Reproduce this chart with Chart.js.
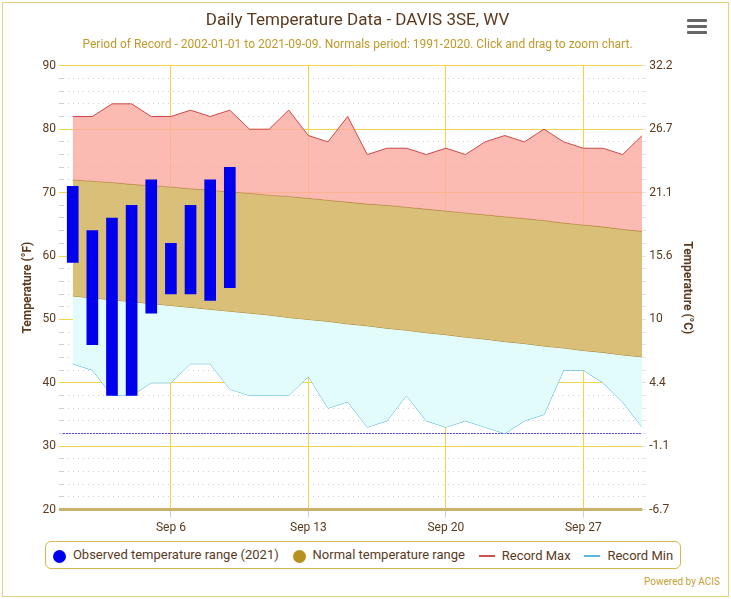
<!DOCTYPE html>
<html><head><meta charset="utf-8">
<script src="https://cdn.jsdelivr.net/npm/chart.js@4"></script>
<style>
body{margin:0;background:#fff;font-family:Roboto,sans-serif;}
#wrap{position:absolute;left:2px;top:2px;width:725px;height:593px;border:1px solid #e6d27a;}
#c{position:absolute;left:0;top:0;}
#legend{position:absolute;left:42px;top:538px;width:634px;height:26px;border:1.5px solid #d4b84a;border-radius:6px;display:flex;align-items:center;justify-content:space-around;font-size:13px;color:#5a3a1e;}
#legend span.i{display:inline-block;vertical-align:middle;margin-right:7px}
#powered{position:absolute;right:8px;top:573px;font-size:10px;color:#c5a030}
#menu{position:absolute;left:684px;top:16px;width:20px}
#menu div{height:3px;background:#666;margin-bottom:3px;border-radius:1px}
</style></head><body>
<div id="wrap">
<canvas id="c" width="725" height="535"></canvas>
<div id="menu"><div></div><div></div><div></div></div>
<div id="legend">
 <div><span class="i" style="width:13px;height:13px;border-radius:50%;background:#0000ee"></span>Observed temperature range (2021)</div>
 <div><span class="i" style="width:13px;height:13px;border-radius:50%;background:#b8901e"></span>Normal temperature range</div>
 <div><span class="i" style="width:16px;height:2px;background:#d05050"></span>Record Max</div>
 <div><span class="i" style="width:16px;height:2px;background:#5ab8dd"></span>Record Min</div>
</div>
<div id="powered">Powered by ACIS</div>
</div>
<script>
const days = [1,2,3,4,5,6,7,8,9,10,11,12,13,14,15,16,17,18,19,20,21,22,23,24,25,26,27,28,29,30];
const recordMax = [82,82,84,84,82,82,83,82,83,80,80,83,79,78,82,76,77,77,76,77,76,78,79,78,80,78,77,77,76,79];
const recordMin = [43,42,38,38,40,40,43,43,39,38,38,38,41,36,37,33,34,38,34,33,34,33,32,34,35,42,42,40,37,33];
const normalMax = [72,71.8,71.6,71.3,71.1,70.9,70.6,70.4,70.1,69.9,69.6,69.4,69.1,68.8,68.5,68.2,68,67.7,67.4,67.1,66.8,66.5,66.2,65.9,65.6,65.2,64.9,64.6,64.2,63.9];
const normalMin = [53.7,53.4,53.1,52.8,52.5,52.2,51.9,51.6,51.3,51,50.7,50.3,50,49.7,49.3,49,48.6,48.3,47.9,47.6,47.2,46.9,46.5,46.2,45.8,45.5,45.1,44.8,44.4,44.1];
const obsDays = [1,2,3,4,5,6,7,8,9];
const obsLow = [59,46,38,38,51,54,54,53,55];
const obsHigh = [71,64,66,68,72,62,68,72,74];
const xTicks = [6,13,20,27];

const pts = a => a.map((v,i)=>({x:days[i],y:v}));
const fToC = f => { const c=((f-32)*5/9).toFixed(1); return c.endsWith('.0')?c.slice(0,-2):c; };
const gridColor = ctx => {
  const v = ctx.tick ? ctx.tick.value : null;
  if (v === 20) return '#c9b36a';
  return (v % 10 === 0) ? '#f2d648' : '#d0d0d0';
};

new Chart(document.getElementById('c'), {
  data: { datasets: [
    {type:'bar', label:'Observed', data: obsDays.map((d,i)=>({x:d,y:[obsLow[i],obsHigh[i]]})), backgroundColor:'#0000ee', barThickness:11, order:0},
    {type:'line', label:'Record Max', data: pts(recordMax), borderColor:'#d04848', borderWidth:1, backgroundColor:'rgba(250,170,160,0.8)', fill:'+1', pointRadius:0, tension:0, order:1},
    {type:'line', label:'Normal Max', data: pts(normalMax), borderColor:'#a8822a', borderWidth:1, backgroundColor:'#d9bf78', fill:'+1', pointRadius:0, order:2},
    {type:'line', label:'Normal Min', data: pts(normalMin), borderColor:'#a8822a', borderWidth:1, backgroundColor:'#e2fcfb', fill:'+1', pointRadius:0, order:3},
    {type:'line', label:'Record Min', data: pts(recordMin), borderColor:'#4cb0d8', borderWidth:1, fill:false, pointRadius:0, order:4},
    {type:'line', label:'Freeze', data: [{x:0.5,y:32},{x:30,y:32}], borderColor:'#4848c8', borderWidth:1.2, borderDash:[2,1], pointRadius:0, fill:false, order:5}
  ]},
  options: {
    animation:false, responsive:false,
    layout:{padding:{left:14,right:30,top:0}},
    plugins:{
      legend:{display:false}, tooltip:{enabled:false},
      title:{display:true,text:'Daily Temperature Data - DAVIS 3SE, WV',color:'#5a3a1e',font:{family:'Roboto',size:17,weight:'normal'},padding:{top:8,bottom:6}},
      subtitle:{display:true,text:'Period of Record - 2002-01-01 to 2021-09-09. Normals period: 1991-2020. Click and drag to zoom chart.',color:'#c09a28',font:{family:'Roboto',size:12},padding:{bottom:14}}
    },
    scales:{
      x:{type:'linear', min:0.5, max:30, offset:false,
        afterBuildTicks: s => { s.ticks = xTicks.map(v=>({value:v})); },
        ticks:{callback:v=>'Sep '+v, color:'#5a3a1e', font:{family:'Roboto',size:12}},
        grid:{color:'#f2d648', offset:false, drawTicks:true, tickColor:'#c8d0e0', tickLength:8},
        border:{display:false}},
      y:{position:'left', min:20, max:90,
        ticks:{stepSize:2, autoSkip:false, color:'#5a3a1e', font:{family:'Roboto',size:12}, callback:v=> v%10===0 ? v : ''},
        grid:{color:gridColor, lineWidth:c=>(c.tick&&c.tick.value===20)?3:1, tickLength:4},
        border:{display:false, dash:c=>(c.tick&&c.tick.value%10!==0)?[1,4]:[]},
        title:{display:true,text:'Temperature (°F)',color:'#5a3a1e',font:{family:'Roboto',size:12,weight:'bold'}}},
      y2:{position:'right', min:20, max:90,
        ticks:{stepSize:2, autoSkip:false, color:'#5a3a1e', font:{family:'Roboto',size:12}, callback:v=> v%10===0 ? fToC(v) : ''},
        grid:{drawOnChartArea:false, tickLength:4},
        border:{display:false},
        title:{display:true,text:'Temperature (°C)',color:'#5a3a1e',font:{family:'Roboto',size:12,weight:'bold'}}}
    }
  }
});
</script>
</body></html>
